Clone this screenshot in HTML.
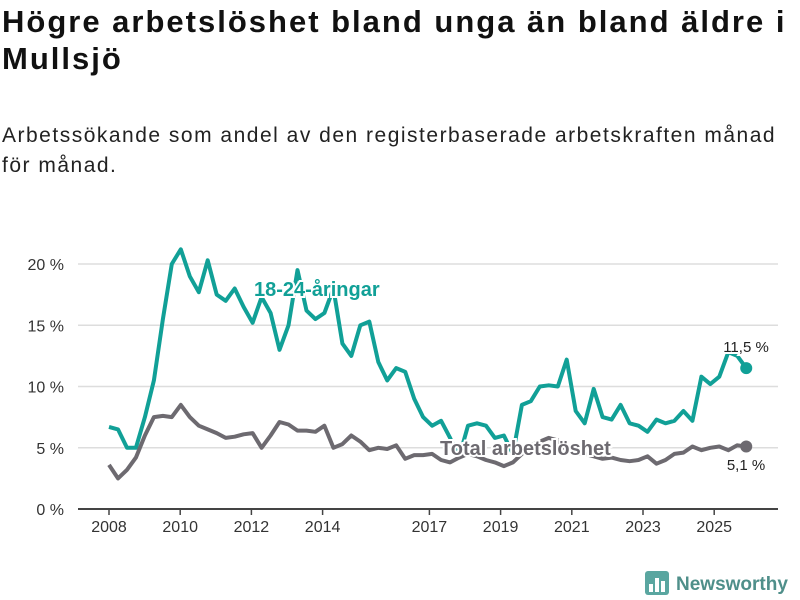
<!DOCTYPE html>
<html><head><meta charset="utf-8"><style>
body{margin:0;width:800px;height:600px;background:#fff;font-family:"Liberation Sans",sans-serif;overflow:hidden}
h1{position:absolute;left:2px;top:3px;margin:0;font-size:31px;line-height:37px;letter-spacing:2px;font-weight:bold;color:#111;width:798px;white-space:nowrap}
p{position:absolute;left:2px;top:121px;margin:0;font-size:21px;line-height:30px;letter-spacing:1.5px;color:#222;width:798px;white-space:nowrap}
svg{position:absolute;left:0;top:0}
</style></head><body>
<h1>Högre arbetslöshet bland unga än bland äldre i<br>Mullsjö</h1>
<p>Arbetssökande som andel av den registerbaserade arbetskraften månad<br>för månad.</p>
<svg id="chart" width="800" height="600"></svg>
<script>
const yTicks=[0,5,10,15,20];
const yTickLabels=["0 %","5 %","10 %","15 %","20 %"];
const xTicks=[2008,2010,2012,2014,2017,2019,2021,2023,2025];
const startYear=2008.0;
const endYear=2025.9;
const youth=[6.7,6.5,5.0,5.0,7.5,10.5,15.5,20,21.2,19,17.7,20.3,17.5,17,18,16.5,15.2,17.3,16,13,15,19.5,16.2,15.5,16,18,13.5,12.5,15,15.3,12,10.5,11.5,11.2,9,7.5,6.8,7.2,5.8,4.2,6.8,7,6.8,5.8,6.0,4.5,8.5,8.8,10,10.1,10,12.2,8,7,9.8,7.5,7.3,8.5,7,6.8,6.3,7.3,7.0,7.2,8,7.2,10.8,10.2,10.8,12.8,12.5,11.5];
const total=[3.6,2.5,3.2,4.2,6,7.5,7.6,7.5,8.5,7.5,6.8,6.5,6.2,5.8,5.9,6.1,6.2,5.0,6.0,7.1,6.9,6.4,6.4,6.3,6.8,5.0,5.3,6.0,5.5,4.8,5.0,4.9,5.2,4.1,4.4,4.4,4.5,4.0,3.8,4.2,4.5,4.3,4.0,3.8,3.5,3.8,4.5,5.2,5.5,5.8,5.6,4.8,4.5,4.5,4.3,4.1,4.2,4.0,3.9,4.0,4.3,3.7,4.0,4.5,4.6,5.1,4.8,5.0,5.1,4.8,5.2,5.1];
const NS="http://www.w3.org/2000/svg";
const svg=document.getElementById('chart');
const X=yr=>109+(yr-2008)*35.6;
const Y=v=>509-v*12.25;
function mk(tag,attrs,parent){const e=document.createElementNS(NS,tag);for(const k in attrs)e.setAttribute(k,attrs[k]);(parent||svg).appendChild(e);return e;}
yTicks.forEach((t,i)=>{
  if(t>0){const g=mk('line',{x1:78,x2:778,y1:Y(t),y2:Y(t),stroke:'#ddd','stroke-width':1.5});
  
  }
  const tx=mk('text',{x:64,y:Y(t)+6,'text-anchor':'end','font-size':16,fill:'#333'});
  tx.textContent=yTickLabels[i];
  
  
});
const ax=mk('line',{x1:78,x2:778,y1:509,y2:509,stroke:'#444','stroke-width':2});


xTicks.forEach(t=>{
  const tk=mk('line',{x1:X(t),x2:X(t),y1:509,y2:515,stroke:'#444','stroke-width':1.5});
  
  
  const tx=mk('text',{x:X(t),y:532,'text-anchor':'middle','font-size':16,fill:'#333'});
  tx.textContent=t;
  
  
});
function series(vals,color,name){
  const step=(endYear-startYear)/(vals.length-1);
  const d=vals.map((v,i)=>(i?'L':'M')+X(startYear+i*step).toFixed(1)+','+Y(v).toFixed(1)).join('');
  const p=mk('path',{d:d,fill:'none',stroke:color,'stroke-width':4,'stroke-linejoin':'round'});
  
  
  const last=vals[vals.length-1];
  const c=mk('circle',{cx:X(endYear),cy:Y(last),r:6,fill:color});
  
  
  return last;
}
const ly=series(youth,'#11a097','youth');
const lt=series(total,'#6d6a70','total');
function label(txt,x,y,color,size,weight,anchor,name){
  const t=mk('text',{x:x,y:y,'font-size':size,'font-weight':weight,fill:color,'text-anchor':anchor,stroke:'#fff','stroke-width':4,'paint-order':'stroke'});
  t.textContent=txt;
  
  
}
label('18-24-åringar',254,296,'#11a097',20,'bold','start','youth-series-label');
label('Total arbetslöshet',440,455,'#6d6a70',20,'bold','start','total-series-label');
label(ly.toFixed(1).replace('.',',')+' %',746,352,'#222',15,'normal','middle','youth-last-value');
label(lt.toFixed(1).replace('.',',')+' %',746,470,'#222',15,'normal','middle','total-last-value');
const g=mk('g',{});


mk('rect',{x:645,y:571,width:24,height:24,rx:3,fill:'#5aa6a0'},g);
[[649,584,4,8],[655,578,4,14],[661,581,4,11]].forEach(r=>mk('rect',{x:r[0],y:r[1],width:r[2],height:r[3],fill:'#fff'},g));
const lt2=mk('text',{x:676,y:590,'font-size':19,'font-weight':'bold',fill:'#4f8f8a'},g);
lt2.textContent='Newsworthy';
</script>
</body></html>
